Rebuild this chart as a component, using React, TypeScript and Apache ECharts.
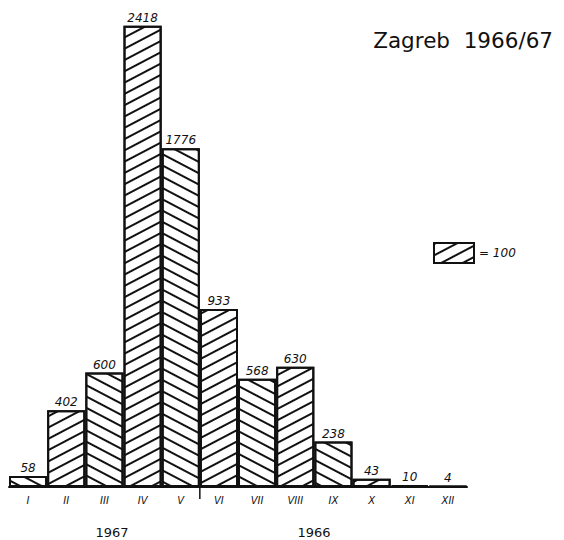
import React, { useEffect, useRef } from "react";
import * as echarts from "echarts";

const months = ["I", "II", "III", "IV", "V", "VI", "VII", "VIII", "IX", "X", "XI", "XII"];
const counts = [58, 402, 600, 2418, 1776, 933, 568, 630, 238, 43, 10, 4];
const titleText = "Zagreb  1966/67";
const legendLabel = "= 100";
const yearLabels = ["1967", "1966"];

const INK = "#111";

const hatch = (rising: boolean) => ({
  symbol: "rect",
  symbolSize: 1,
  color: INK,
  backgroundColor: "#fff",
  dashArrayX: [1, 0],
  dashArrayY: [1.4, 7.6],
  rotation: rising ? -Math.PI / 6.5 : Math.PI / 6.5,
});

export default function App() {
  const ref = useRef<HTMLDivElement>(null);
  useEffect(() => {
    if (!ref.current) return;
    const chart = echarts.init(ref.current, undefined, { renderer: "svg" });
    const valueFont = { fontFamily: "DejaVu Sans", fontStyle: "italic" as const };
    chart.setOption({
      animation: false,
      backgroundColor: "#fff",
      aria: { enabled: true, decal: { show: true } },
      title: {
        text: titleText,
        right: 6,
        top: 24,
        textStyle: { fontFamily: "DejaVu Sans", fontWeight: "normal", fontSize: 21.5, color: INK },
      },
      legend: {
        data: [{ name: legendLabel, icon: "rect" }],
        left: 428,
        top: 237,
        itemWidth: 40,
        itemHeight: 20,
        itemGap: 6,
        selectedMode: false,
        textStyle: { ...valueFont, fontSize: 12, color: INK },
      },
      grid: { left: 9, right: 97, top: 10, bottom: 53, containLabel: false },
      xAxis: {
        type: "category",
        data: months,
        boundaryGap: true,
        axisLine: { show: true, lineStyle: { color: INK, width: 2 } },
        axisTick: { show: false },
        axisLabel: { ...valueFont, fontSize: 10, color: INK, margin: 8, interval: 0 },
      },
      yAxis: {
        type: "value",
        min: 0,
        max: 2500,
        show: false,
        splitLine: { show: false },
      },
      series: [
        {
          name: legendLabel,
          type: "bar",
          barCategoryGap: 0,
          itemStyle: { color: "#fff", borderColor: INK, borderWidth: 2, decal: hatch(true) },
          label: {
            show: true,
            position: "top",
            distance: 2,
            ...valueFont,
            fontSize: 12,
            color: INK,
          },
          data: counts.map((v, i) => ({
            value: v,
            itemStyle: { decal: hatch(i % 2 === 1) },
          })),
        },
      ],
    });
    const xA = chart.convertToPixel({ xAxisIndex: 0 }, 4) as number;
    const xB = chart.convertToPixel({ xAxisIndex: 0 }, 5) as number;
    const y0 = chart.convertToPixel({ yAxisIndex: 0 }, 0) as number;
    const sep = (xA + xB) / 2;
    chart.setOption({
      graphic: [
        {
          type: "line",
          shape: { x1: sep, y1: y0, x2: sep, y2: y0 + 12 },
          style: { stroke: INK, lineWidth: 1.5 },
        },
        {
          type: "text",
          x: 112,
          y: 532,
          style: {
            text: yearLabels[0],
            fontFamily: "DejaVu Sans",
            fontSize: 13,
            fill: INK,
            align: "center",
            verticalAlign: "middle",
          },
        },
        {
          type: "text",
          x: 314,
          y: 532,
          style: {
            text: yearLabels[1],
            fontFamily: "DejaVu Sans",
            fontSize: 13,
            fill: INK,
            align: "center",
            verticalAlign: "middle",
          },
        },
      ],
    });
    return () => chart.dispose();
  }, []);
  return (
    <div
      ref={ref}
      style={{ position: "fixed", left: 0, top: 0, width: 564, height: 540 }}
    />
  );
}
